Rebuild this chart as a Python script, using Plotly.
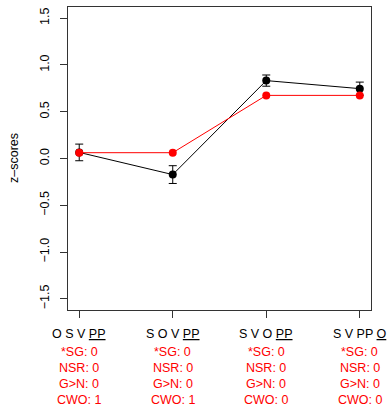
import plotly.graph_objects as go

categories = [1, 2, 3, 4]
word_orders = ["O S V <span style='text-decoration:underline'>PP</span>",
               "S O V <span style='text-decoration:underline'>PP</span>",
               "S V O <span style='text-decoration:underline'>PP</span>",
               "S V PP <span style='text-decoration:underline'>O</span>"]
sg = [0, 0, 0, 0]
nsr = [0, 0, 0, 0]
gn = [0, 0, 0, 0]
cwo = [1, 1, 0, 0]

observed = [0.065, -0.172, 0.833, 0.747]
observed_se = [0.089, 0.095, 0.06, 0.07]
predicted = [0.062, 0.062, 0.675, 0.675]

yticks = [-1.5, -1.0, -0.5, 0.0, 0.5, 1.0, 1.5]

FONT = "Liberation Sans, Arial, sans-serif"
FS = 12.5

fig = go.Figure()
fig.add_trace(go.Scatter(
    x=categories, y=observed, mode="lines+markers",
    line=dict(color="black", width=1),
    marker=dict(color="black", size=8),
    error_y=dict(type="data", array=observed_se, color="black", thickness=1, width=4),
    showlegend=False))
fig.add_trace(go.Scatter(
    x=categories, y=predicted, mode="lines+markers",
    line=dict(color="red", width=1),
    marker=dict(color="red", size=8),
    showlegend=False))

annotations = []
rows = [(word_orders, "black", -24),
        (["*SG: %d" % v for v in sg], "red", -42),
        (["NSR: %d" % v for v in nsr], "red", -58),
        (["G>N: %d" % v for v in gn], "red", -73.5),
        (["CWO: %d" % v for v in cwo], "red", -89.5)]
for texts, color, shift in rows:
    for xv, t in zip(categories, texts):
        annotations.append(dict(x=xv, xref="x", y=0, yref="paper", yanchor="middle",
                                xanchor="center", yshift=shift, text=t, showarrow=False,
                                font=dict(family=FONT, size=FS, color=color)))
annotations.append(dict(x=0, xref="paper", xanchor="center", xshift=-54.5,
                        y=0.5, yref="paper", yanchor="middle",
                        text="z\u2013scores", textangle=-90, showarrow=False,
                        font=dict(family=FONT, size=FS, color="black")))

fig.update_layout(
    width=389, height=406,
    margin=dict(l=67.5, r=18, t=7, b=96),
    plot_bgcolor="white", paper_bgcolor="white",
    annotations=annotations,
    font=dict(family=FONT, size=FS, color="black"),
)
fig.update_xaxes(range=[0.88, 4.12], tickvals=categories, ticktext=[""] * 4,
                 ticks="outside", ticklen=7, tickcolor="#333", tickwidth=1,
                 showgrid=False, zeroline=False,
                 showline=True, linecolor="#333", linewidth=1, mirror=True)
fig.update_yaxes(range=[-1.62, 1.62], tickvals=yticks,
                 ticktext=["\u22121.5", "\u22121.0", "\u22120.5", "0.0", "0.5", "1.0", "1.5"],
                 tickangle=-90, ticklabelstandoff=6,
                 ticks="outside", ticklen=7, tickcolor="#333", tickwidth=1,
                 showgrid=False, zeroline=False,
                 showline=True, linecolor="#333", linewidth=1, mirror=True)

fig.write_html("out.html")
